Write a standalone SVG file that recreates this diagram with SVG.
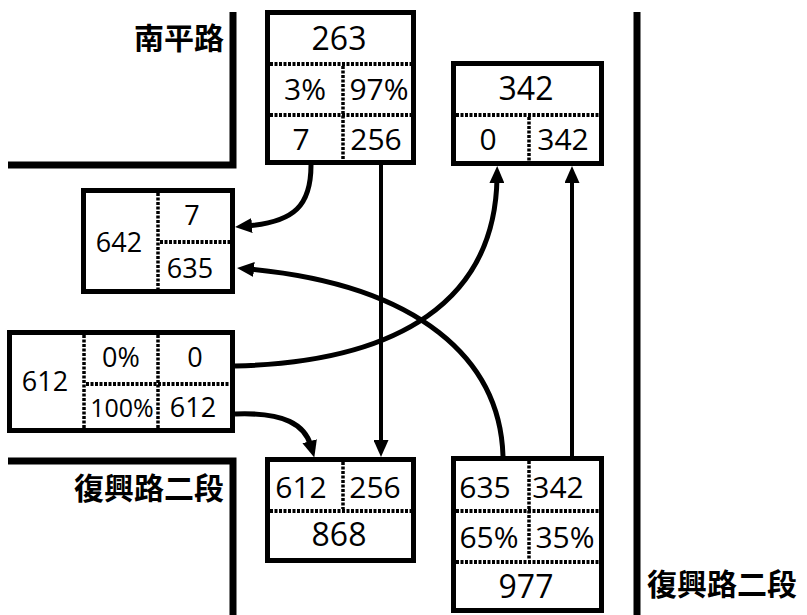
<svg xmlns="http://www.w3.org/2000/svg" width="807" height="615" viewBox="0 0 807 615">
<style>
.road{fill:none;stroke:#000;stroke-width:7}
.box{fill:#fff;stroke:#000;stroke-width:5}
.dot{fill:none;stroke:#000;stroke-width:4;stroke-dasharray:3 1.5}
.vdot{fill:none;stroke:#000;stroke-width:3.5;stroke-dasharray:3 1.5}
.conn{fill:none;stroke:#000;stroke-width:5}
.line{fill:none;stroke:#000;stroke-width:4}
.lbl{font-family:"Noto Sans CJK TC","Noto Sans CJK SC",sans-serif;font-size:30px;font-weight:bold;fill:#000}
.t{font-family:"Open Sans","Noto Sans",sans-serif;fill:#000;text-anchor:middle}
.big{font-size:32px}
.mid{font-size:30px}
.sm{font-size:27px}
.xs{font-size:25px}
</style>
<defs>
<marker id="arr" markerUnits="userSpaceOnUse" markerWidth="17" markerHeight="15" refX="5" refY="7.5" orient="auto">
<path d="M0,0 L17,7.5 L0,15 z" fill="#000"/>
</marker>
</defs>
<g id="roads">
<path class="road" d="M8,165 H233 V12"/>
<path class="road" d="M8,461 H233 V615"/>
<path class="road" d="M637,12 V615"/>
<text class="lbl" x="224" y="49" text-anchor="end">南平路</text>
<text class="lbl" x="224" y="499" text-anchor="end">復興路二段</text>
<text class="lbl" x="647" y="595">復興路二段</text>
</g>
<g id="connectors">
<path class="conn" d="M311,165 C311,205 295,222 247,226" marker-end="url(#arr)"/>
<path class="line" d="M381,165 V445" marker-end="url(#arr)"/>
<path class="conn" d="M235,366 C400,362 495,300 497,178" marker-end="url(#arr)"/>
<path class="conn" d="M235,414 C285,412 305,425 311,446" marker-end="url(#arr)"/>
<path class="conn" d="M503,456 C500,360 420,285 249,269" marker-end="url(#arr)"/>
<path class="line" d="M572,456 V178" marker-end="url(#arr)"/>
</g>
<g id="node263">
<rect class="box" x="267.5" y="12.5" width="146" height="150"/>
<path class="dot" d="M270,64 H411 M270,115 H411"/>
<path class="vdot" d="M343,66 V160"/>
<text class="t big" x="339" y="50">263</text>
<text class="t mid" x="305" y="100">3%</text>
<text class="t mid" x="379" y="100">97%</text>
<text class="t mid" x="301" y="150">7</text>
<text class="t mid" x="376" y="150">256</text>
</g>
<g id="node342">
<rect class="box" x="453.5" y="63.5" width="148" height="100"/>
<path class="dot" d="M456,115 H599"/>
<path class="vdot" d="M529,117 V161"/>
<text class="t big" x="526" y="100">342</text>
<text class="t mid" x="488" y="150">0</text>
<text class="t mid" x="563" y="150">342</text>
</g>
<g id="node642">
<rect class="box" x="83.5" y="190.5" width="149" height="101"/>
<path class="vdot" d="M158,193 V289"/>
<path class="dot" d="M160,242 H230"/>
<text class="t sm" x="119" y="252">642</text>
<text class="t sm" x="192" y="225">7</text>
<text class="t sm" x="190" y="278">635</text>
</g>
<g id="node612">
<rect class="box" x="9.5" y="332.5" width="223" height="98"/>
<path class="vdot" d="M84,335 V428 M158,335 V428"/>
<path class="dot" d="M86,384 H230"/>
<text class="t sm" x="45" y="391">612</text>
<text class="t sm" x="121" y="367">0%</text>
<text class="t sm" x="195" y="367">0</text>
<text class="t xs" x="122" y="417">100%</text>
<text class="t sm" x="193" y="417">612</text>
</g>
<g id="node868">
<rect class="box" x="267.5" y="459.5" width="146" height="101"/>
<path class="vdot" d="M343,462 V509"/>
<path class="dot" d="M270,511 H411"/>
<text class="t mid" x="301" y="498">612</text>
<text class="t mid" x="375" y="498">256</text>
<text class="t big" x="339" y="546">868</text>
</g>
<g id="node977">
<rect class="box" x="453.5" y="458.5" width="148" height="152"/>
<path class="vdot" d="M529,461 V560"/>
<path class="dot" d="M456,511 H599 M456,562 H599"/>
<text class="t mid" x="485" y="498">635</text>
<text class="t mid" x="558" y="498">342</text>
<text class="t mid" x="489" y="548">65%</text>
<text class="t mid" x="565" y="548">35%</text>
<text class="t big" x="526" y="598">977</text>
</g>
</svg>
